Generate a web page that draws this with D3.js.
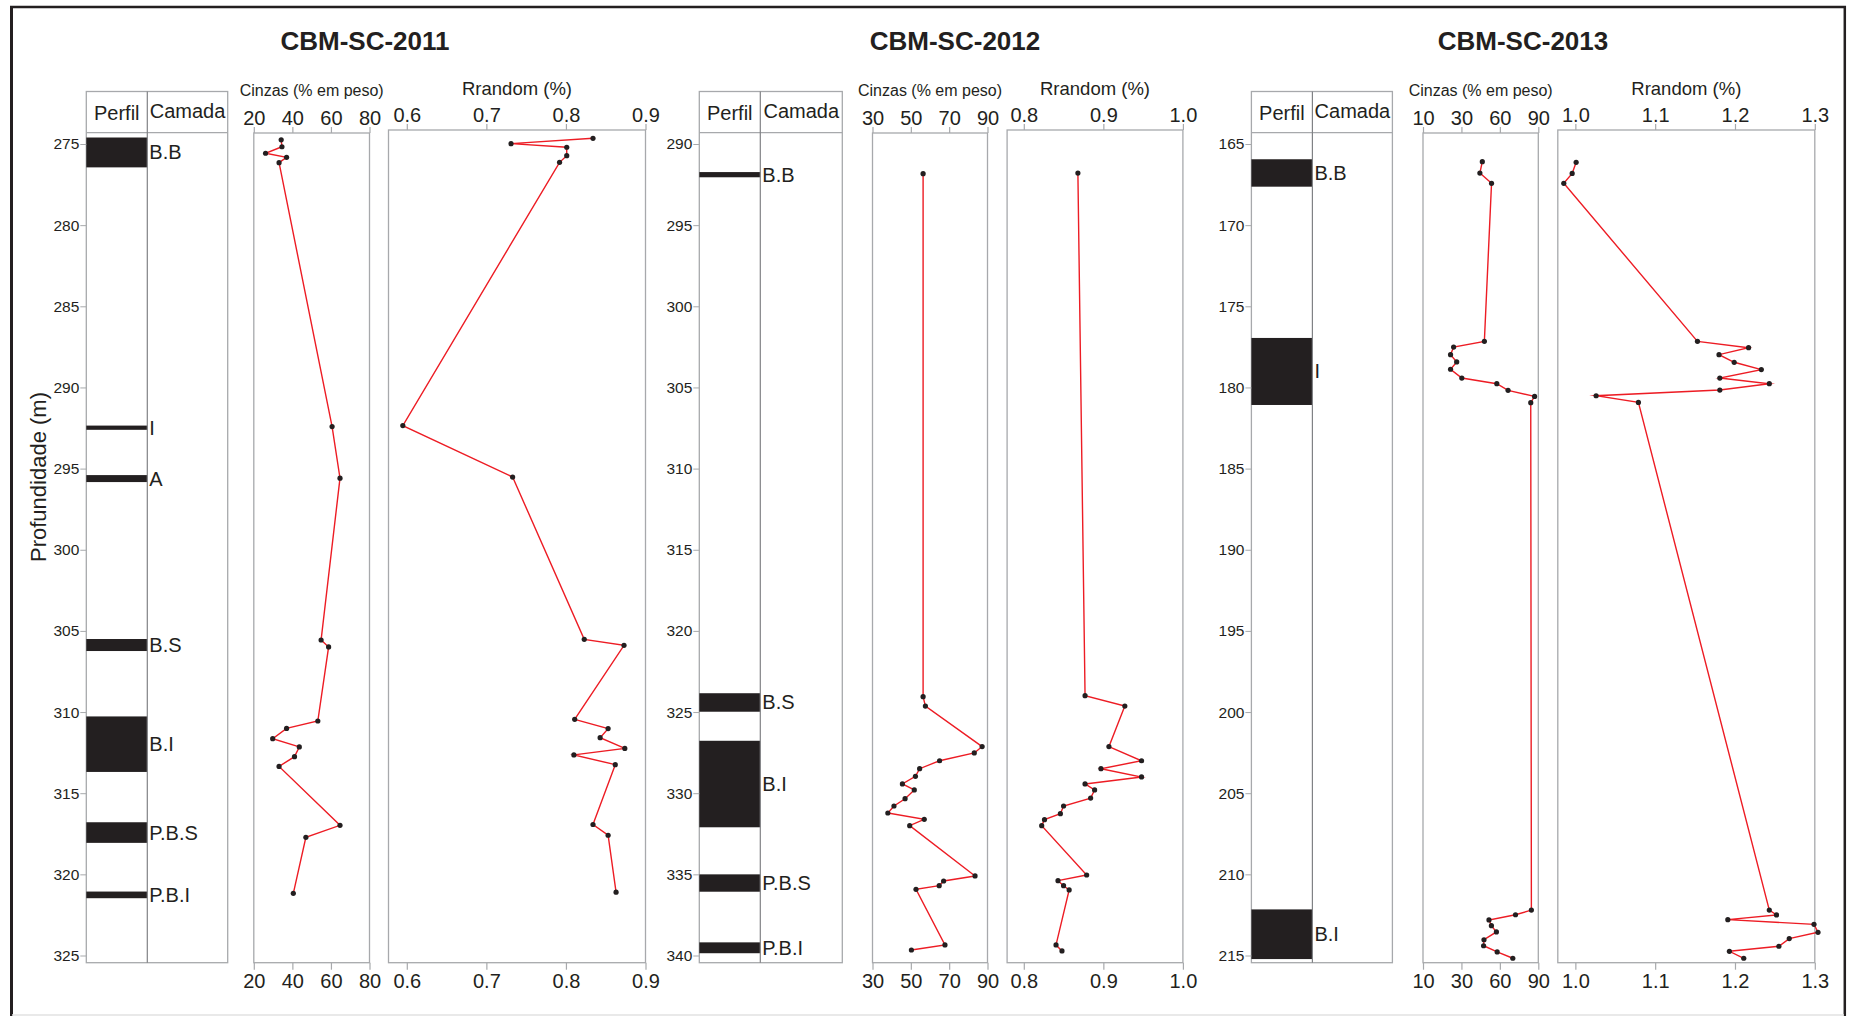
<!DOCTYPE html>
<html>
<head>
<meta charset="utf-8">
<script src="https://cdn.jsdelivr.net/npm/d3@7"></script>
<style>
  body { margin: 0; background: #fff; }
  text { font-family: "Liberation Sans", Arial, sans-serif; fill: #231f20; }
</style>
</head>
<body>
<div id="container"></div>
<script>
let width = 1850;
let height = 1016;

// ---- data ----
const titles = ["CBM-SC-2011", "CBM-SC-2012", "CBM-SC-2013"];
const depthTop = [275, 290, 165];

const cinzasDomain = [[20, 80], [30, 90], [0, 90]];
const cinzasTicks = [[20, 40, 60, 80], [30, 50, 70, 90], [0, 30, 60, 90]];
const cinzasTickLabels = [["20", "40", "60", "80"], ["30", "50", "70", "90"], ["10", "30", "60", "90"]];
const rrDomain = [[0.577, 0.9], [0.779, 1.0], [0.978, 1.3]];
const rrTicks = [[0.6, 0.7, 0.8, 0.9], [0.8, 0.9, 1.0], [1.0, 1.1, 1.2, 1.3]];

// layers (camadas)
const layerName2011 = ["B.B", "I", "A", "B.S", "B.I", "P.B.S", "P.B.I"];
const layerTop2011 = [274.6, 292.35, 295.4, 305.5, 310.27, 316.79, 321.06];
const layerBase2011 = [276.44, 292.61, 295.83, 306.24, 313.69, 318.06, 321.47];

const layerName2012 = ["B.B", "B.S", "B.I", "P.B.S", "P.B.I"];
const layerTop2012 = [291.73, 323.84, 326.77, 335.0, 339.19];
const layerBase2012 = [292.05, 324.98, 332.1, 336.07, 339.86];

const layerName2013 = ["B.B", "I", "B.I"];
const layerTop2013 = [165.94, 176.95, 212.16];
const layerBase2013 = [167.63, 181.08, 215.22];

// Cinzas (% em peso)
const cinzasDepth2011 = [274.74, 275.17, 275.57, 275.82, 276.15, 292.41, 295.59, 305.56, 305.99,
  310.55, 311.01, 311.64, 312.15, 312.75, 313.35, 316.98, 317.72, 321.17];
const cinzasValue2011 = [34.2, 34.6, 26.1, 37.0, 33.1, 60.6, 64.7, 54.9, 58.8,
  53.2, 37.0, 29.8, 43.6, 41.1, 33.1, 64.7, 47.0, 40.5];

const cinzasDepth2012 = [291.83, 324.05, 324.63, 327.13, 327.52, 328.0, 328.49, 328.96, 329.43, 329.8,
  330.34, 330.79, 331.22, 331.61, 332.0, 335.1, 335.41, 335.7, 335.92, 339.35, 339.66];
const cinzasValue2012 = [56.4, 56.4, 57.6, 87.2, 83.1, 65.0, 54.6, 52.4, 45.6, 51.8,
  47.0, 41.2, 38.0, 57.0, 49.4, 83.5, 67.1, 64.8, 52.7, 67.8, 50.3];

const cinzasDepth2013 = [166.09, 166.79, 167.42, 177.16, 177.51, 177.98, 178.43, 178.88, 179.42, 179.77,
  180.18, 180.55, 180.94, 212.2, 212.49, 212.81, 213.16, 213.55, 214.03, 214.4, 214.78, 215.17];
const cinzasValue2013 = [46.3, 44.4, 53.5, 47.9, 23.9, 21.5, 26.3, 21.5, 30.3, 57.6,
  66.4, 87.1, 84.1, 84.6, 72.2, 51.5, 53.4, 57.3, 47.6, 47.3, 57.9, 70.1];

// Rrandom (%)
const rrDepth2011 = [274.65, 274.98, 275.2, 275.72, 276.13, 292.35, 295.52, 305.52, 305.89,
  310.45, 311.02, 311.58, 312.24, 312.64, 313.24, 316.93, 317.59, 321.1];
const rrValue2011 = [0.834, 0.731, 0.801, 0.801, 0.792, 0.595, 0.733, 0.823, 0.873,
  0.811, 0.853, 0.843, 0.874, 0.81, 0.862, 0.834, 0.853, 0.863];

const rrDepth2012 = [291.79, 323.99, 324.63, 327.13, 328.0, 328.49, 329.0, 329.43, 329.8, 330.3,
  330.79, 331.26, 331.63, 332.0, 335.04, 335.39, 335.7, 335.96, 339.35, 339.72];
const rrValue2012 = [0.868, 0.877, 0.927, 0.907, 0.948, 0.897, 0.948, 0.877, 0.889, 0.884,
  0.85, 0.846, 0.826, 0.8225, 0.879, 0.843, 0.85, 0.857, 0.8405, 0.848];

const rrDepth2013 = [166.13, 166.81, 167.42, 177.16, 177.55, 177.98, 178.45, 178.9, 179.42, 179.77,
  180.16, 180.51, 180.92, 212.2, 212.5, 212.79, 213.08, 213.57, 213.96, 214.43, 214.74, 215.17];
const rrValue2013 = [1.001, 0.996, 0.9855, 1.153, 1.217, 1.18, 1.199, 1.233, 1.181, 1.243,
  1.181, 1.026, 1.079, 1.243, 1.252, 1.191, 1.299, 1.304, 1.268, 1.255, 1.193, 1.211];

const layerNames = [layerName2011, layerName2012, layerName2013];
const layerTops = [layerTop2011, layerTop2012, layerTop2013];
const layerBases = [layerBase2011, layerBase2012, layerBase2013];
const cinzasDepths = [cinzasDepth2011, cinzasDepth2012, cinzasDepth2013];
const cinzasValues = [cinzasValue2011, cinzasValue2012, cinzasValue2013];
const rrDepths = [rrDepth2011, rrDepth2012, rrDepth2013];
const rrValues = [rrValue2011, rrValue2012, rrValue2013];

// ---- layout ----
const titleX = [365, 955, 1523];
const perfilX = [86.3, 699.3, 1251.4];
const perfilColW = 61;
const camadaColW = [80.4, 82, 80];
const cinzasRange = [[253.8, 369.5], [872.5, 987.5], [1423, 1538.3]];
const rrRange = [[388.5, 645.5], [1007.1, 1182.9], [1557.8, 1814.8]];

const plotTop = 144, plotBottom = 955.5;
const boxTop = 132.7, boxBottom = 962.7, headerTop = 91.5;
const cinzasTop = 133, rrTop = 130;

const gray = "#a7a9ac";
const red = "#ed1c24";
const ink = "#231f20";

let svg = d3.select("#container")
  .append("svg")
  .attr("width", width)
  .attr("height", height);

// outer frame
svg.append("line").attr("x1", 11.5).attr("x2", 11.5).attr("y1", 6).attr("y2", 1016)
  .attr("stroke", ink).attr("stroke-width", 3);
svg.append("line").attr("x1", 10).attr("x2", 1846).attr("y1", 7).attr("y2", 7)
  .attr("stroke", ink).attr("stroke-width", 2.5);
svg.append("line").attr("x1", 1844.8).attr("x2", 1844.8).attr("y1", 6).attr("y2", 1016)
  .attr("stroke", ink).attr("stroke-width", 2.5);
svg.append("line").attr("x1", 12).attr("x2", 1844).attr("y1", 1015).attr("y2", 1015)
  .attr("stroke", "#e2e2e2").attr("stroke-width", 1.5);

// depth label
svg.append("text")
  .attr("transform", "translate(46,477) rotate(-90)")
  .attr("text-anchor", "middle")
  .style("font-size", "22px")
  .text("Profundidade (m)");

function drawWell(i) {
  let g = svg.append("g");
  let y = d3.scaleLinear()
    .domain([depthTop[i], depthTop[i] + 50])
    .range([plotTop, plotBottom]);

  // title
  g.append("text")
    .attr("x", titleX[i]).attr("y", 50)
    .attr("text-anchor", "middle")
    .style("font-size", "26px").style("font-weight", "bold")
    .text(titles[i]);

  // ---- Perfil / Camada column ----
  let px = perfilX[i];
  let midX = px + perfilColW;
  let rightX = midX + camadaColW[i];

  g.append("rect")
    .attr("x", px).attr("y", headerTop)
    .attr("width", rightX - px).attr("height", boxBottom - headerTop)
    .attr("fill", "none").attr("stroke", gray).attr("stroke-width", 1.3);
  g.append("line")
    .attr("x1", px).attr("x2", rightX).attr("y1", boxTop).attr("y2", boxTop)
    .attr("stroke", gray).attr("stroke-width", 1.3);

  g.selectAll(".layer")
    .data(layerNames[i])
    .enter().append("rect")
    .attr("x", px)
    .attr("y", (d, k) => y(layerTops[i][k]))
    .attr("width", perfilColW)
    .attr("height", (d, k) => y(layerBases[i][k]) - y(layerTops[i][k]))
    .attr("fill", ink);

  g.append("line")
    .attr("x1", midX).attr("x2", midX).attr("y1", headerTop).attr("y2", boxBottom)
    .attr("stroke", "#808285").attr("stroke-width", 1.2);

  g.selectAll(".layerLabel")
    .data(layerNames[i])
    .enter().append("text")
    .attr("x", midX + 2)
    .attr("y", (d, k) => (y(layerTops[i][k]) + y(layerBases[i][k])) / 2 + 7)
    .style("font-size", "20px")
    .text(d => d);

  g.append("text").attr("x", px + perfilColW / 2).attr("y", 120)
    .attr("text-anchor", "middle").style("font-size", "20px").text("Perfil");
  g.append("text").attr("x", midX + camadaColW[i] / 2).attr("y", 118)
    .attr("text-anchor", "middle").style("font-size", "20px").text("Camada");

  // depth axis
  let yAxis = g.append("g")
    .attr("transform", `translate(${px},0)`)
    .call(d3.axisLeft(y).tickValues(d3.range(depthTop[i], depthTop[i] + 51, 5)).tickSize(6).tickPadding(1));
  yAxis.select(".domain").remove();
  yAxis.selectAll("line").attr("stroke", gray);
  yAxis.selectAll("text").style("font-size", "15.5px").style("font-family", "Liberation Sans, Arial, sans-serif").attr("fill", ink);

  // ---- Cinzas panel ----
  let xc = d3.scaleLinear().domain(cinzasDomain[i]).range(cinzasRange[i]);
  drawPanel(g, xc, cinzasTop, cinzasTicks[i], (d, k) => cinzasTickLabels[i][k], "Cinzas (% em peso)", 16);
  drawSeries(g, xc, y, cinzasDepths[i], cinzasValues[i]);

  // ---- Rrandom panel ----
  let xr = d3.scaleLinear().domain(rrDomain[i]).range(rrRange[i]);
  drawPanel(g, xr, rrTop, rrTicks[i], d3.format(".1f"), "Rrandom (%)", 18.5);
  drawSeries(g, xr, y, rrDepths[i], rrValues[i]);
}

function drawPanel(g, x, top, ticks, fmt, label, labelSize) {
  let r = x.range();
  g.append("rect")
    .attr("x", r[0]).attr("y", top)
    .attr("width", r[1] - r[0]).attr("height", boxBottom - top)
    .attr("fill", "none").attr("stroke", gray).attr("stroke-width", 1.3);

  let topAxis = g.append("g")
    .attr("transform", `translate(0,${top})`)
    .call(d3.axisTop(x).tickValues(ticks).tickFormat(fmt).tickSize(6).tickPadding(2));
  let botAxis = g.append("g")
    .attr("transform", `translate(0,${boxBottom})`)
    .call(d3.axisBottom(x).tickValues(ticks).tickFormat(fmt).tickSize(7).tickPadding(4));
  [topAxis, botAxis].forEach(a => {
    a.select(".domain").remove();
    a.selectAll("line").attr("stroke", gray).attr("stroke-width", 1.2);
    a.selectAll("text").style("font-size", "20px")
      .style("font-family", "Liberation Sans, Arial, sans-serif").attr("fill", ink);
  });

  g.append("text")
    .attr("x", (r[0] + r[1]) / 2).attr("y", top === cinzasTop ? 96 : 95)
    .attr("text-anchor", "middle")
    .style("font-size", labelSize + "px")
    .text(label);
}

function drawSeries(g, x, y, depths, values) {
  let pts = depths.map((d, k) => [values[k], d]);
  let line = d3.line()
    .x(d => x(d[0]))
    .y(d => y(d[1]));

  g.append("path")
    .datum(pts)
    .attr("d", line)
    .attr("fill", "none")
    .attr("stroke", red)
    .attr("stroke-width", 1.4)
    .attr("stroke-linejoin", "miter")
    .attr("stroke-miterlimit", 10);

  g.selectAll(null)
    .data(pts)
    .enter().append("circle")
    .attr("cx", d => x(d[0]))
    .attr("cy", d => y(d[1]))
    .attr("r", 2.6)
    .attr("fill", ink);
}

titles.forEach((t, i) => drawWell(i));
</script>
</body>
</html>
